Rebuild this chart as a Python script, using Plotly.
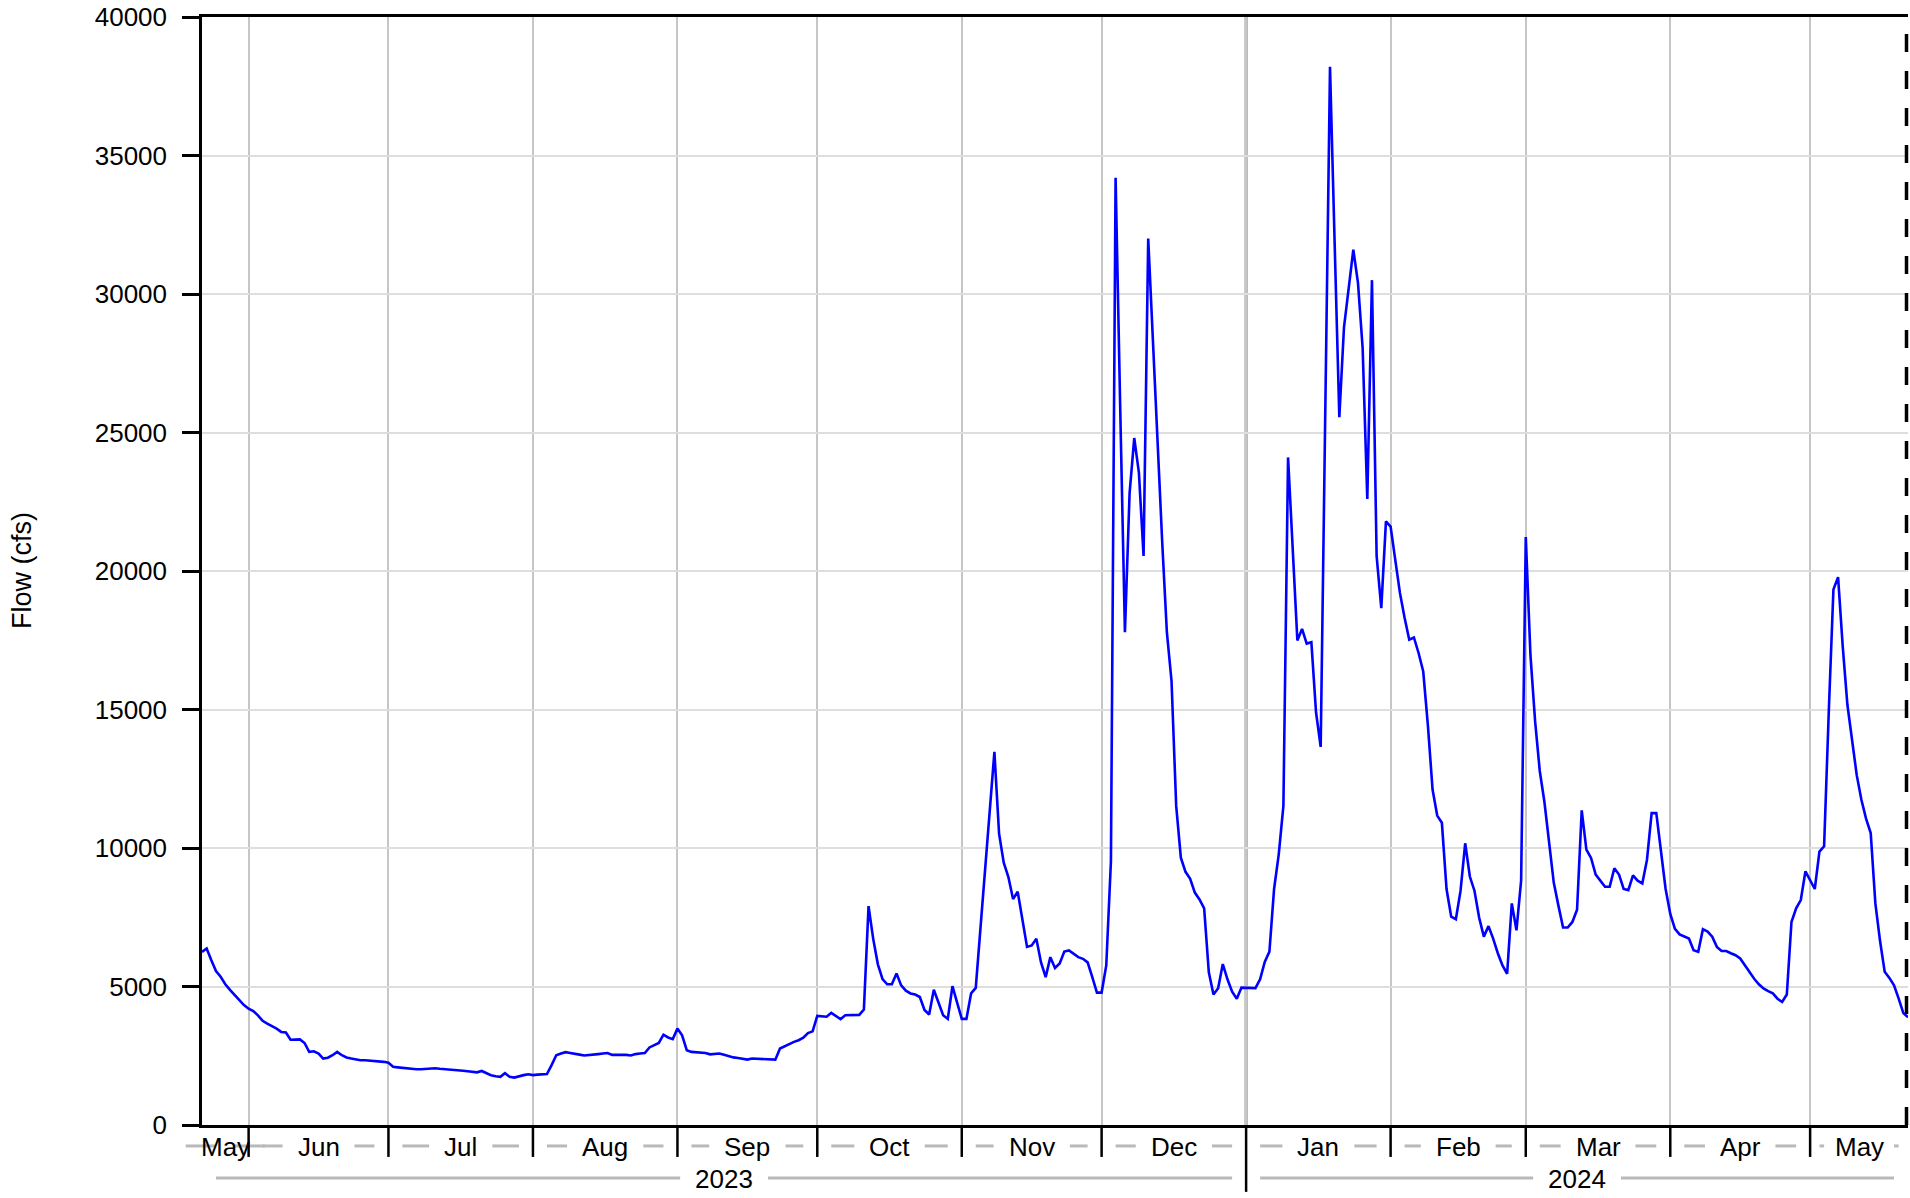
import pandas as pd
import plotly.graph_objects as go

# ---------------- data (daily mean flow, cfs) ----------------
START = "2023-05-22"

flow_2023_05 = [6250, 6370, 5950, 5560, 5350, 5080, 4880, 4700, 4530, 4330]
flow_2023_06 = [4200, 4110, 3960, 3760, 3660, 3580, 3480, 3360, 3340, 3080,
                3080, 3090, 2960, 2640, 2660, 2580, 2400, 2430, 2520, 2640,
                2520, 2440, 2400, 2360, 2340, 2340, 2330, 2320, 2310, 2280]
flow_2023_07 = [2250, 2100, 2080, 2060, 2040, 2020, 2010, 2010, 2020, 2040,
                2050, 2030, 2020, 2010, 2000, 1980, 1960, 1940, 1920, 1900,
                1950, 1880, 1800, 1760, 1740, 1870, 1740, 1710, 1760, 1800,
                1830]
flow_2023_08 = [1800, 1820, 1820, 1840, 2160, 2520, 2580, 2630, 2600, 2580,
                2540, 2510, 2520, 2540, 2560, 2580, 2600, 2530, 2530, 2550,
                2530, 2510, 2560, 2580, 2600, 2800, 2880, 2960, 3260, 3160,
                3100]
flow_2023_09 = [3480, 3240, 2700, 2640, 2620, 2600, 2600, 2550, 2560, 2580,
                2540, 2480, 2440, 2420, 2380, 2360, 2400, 2390, 2370, 2360,
                2360, 2360, 2760, 2850, 2920, 3000, 3060, 3150, 3320, 3380]
flow_2023_10 = [3940, 3920, 3910, 4050, 3940, 3820, 3960, 3970, 3970, 3975,
                4170, 7900, 6720, 5800, 5270, 5080, 5080, 5470, 5040, 4850,
                4750, 4710, 4620, 4150, 3990, 4880, 4420, 3960, 3830, 5010,
                4420]
flow_2023_11 = [3830, 3830, 4750, 4950, 7100, 9250, 11350, 13470, 10520, 9470,
                8950, 8160, 8420, 7370, 6430, 6480, 6720, 5870, 5340, 6060,
                5670, 5830, 6260, 6300, 6190, 6060, 6000, 5870, 5340, 4780]
flow_2023_12 = [4780, 5760, 9520, 34200, 25800, 17790, 22800, 24800, 23550, 20540,
                32000, 28300, 24550, 21040, 17790, 16030, 11520, 9650, 9140, 8890,
                8390, 8140, 7820, 5510, 4710, 4940, 5810, 5260, 4810, 4560,
                4960]
flow_2024_01 = [4960, 4940, 4940, 5260, 5890, 6260, 8520, 9770, 11520, 24100,
                21040, 17490, 17910, 17380, 17430, 14900, 13650, 25800, 38200, 31800,
                25550, 28800, 30300, 31600, 30400, 28050, 22600, 30500, 20540, 18660,
                21790]
flow_2024_02 = [21600, 20400, 19210, 18310, 17520, 17600, 17040, 16370, 14430, 12110,
                11170, 10910, 8520, 7520, 7430, 8450, 10170, 8970, 8450, 7480,
                6800, 7180, 6730, 6200, 5760, 5460, 8000, 7030, 8820]
flow_2024_03 = [21230, 16970, 14580, 12780, 11660, 10090, 8750, 7920, 7130, 7130,
                7330, 7770, 11360, 9940, 9640, 9040, 8820, 8600, 8600, 9270,
                9040, 8520, 8480, 9010, 8820, 8720, 9570, 11260, 11260, 9790,
                8520]
flow_2024_04 = [7620, 7080, 6880, 6800, 6730, 6310, 6250, 7070, 6980, 6800,
                6430, 6280, 6280, 6200, 6130, 6010, 5760, 5530, 5280, 5080,
                4930, 4830, 4750, 4560, 4440, 4710, 7330, 7820, 8120, 9160]
flow_2024_05 = [8820, 8520, 9870, 10060, 14900, 19330, 19780, 17270, 15170, 13830,
                12630, 11740, 11060, 10540, 8000, 6650, 5530, 5310, 5040, 4560,
                4040, 3890]

month_labels = ["May", "Jun", "Jul", "Aug", "Sep", "Oct", "Nov",
                "Dec", "Jan", "Feb", "Mar", "Apr", "May"]
year_labels = ["2023", "2024"]
y_ticks = [0, 5000, 10000, 15000, 20000, 25000, 30000, 35000, 40000]

flow = (flow_2023_05 + flow_2023_06 + flow_2023_07 + flow_2023_08 + flow_2023_09
        + flow_2023_10 + flow_2023_11 + flow_2023_12 + flow_2024_01 + flow_2024_02
        + flow_2024_03 + flow_2024_04 + flow_2024_05)
dates = pd.date_range(START, periods=len(flow), freq="D")
x_start, x_end = dates[0], dates[-1]

# ---------------- geometry ----------------
W, H = 1910, 1198
ML, MR, MT, MB = 202, 2, 15, 73
PW = W - ML - MR
PH = H - MT - MB
SPAN = (x_end - x_start).total_seconds()
FONT = "Liberation Sans, Arial, Helvetica, sans-serif"
FS = 26


def px_of(d):
    return ML + (pd.Timestamp(d) - x_start).total_seconds() / SPAN * PW


def xp(px):
    return (px - ML) / PW


def yp(py):
    return (H - MB - py) / PH


AW = {'J': 500, 'a': 556, 'n': 556, 'F': 611, 'e': 556, 'b': 556, 'M': 833,
      'r': 333, 'A': 667, 'p': 556, 'y': 500, 'u': 556, 'l': 222, 'g': 556,
      'S': 667, 'O': 778, 'c': 500, 't': 278, 'N': 722, 'o': 556, 'v': 500,
      'D': 722}
for ch in "0123456789":
    AW[ch] = 556


def text_w(s):
    return sum(AW.get(c, 556) for c in s) / 1000 * FS


month_starts = list(pd.date_range("2023-06-01", x_end, freq="MS"))
bounds_m = [x_start] + month_starts + [x_end]
jan1 = pd.Timestamp("2024-01-01")
bounds_y = [x_start, jan1, x_end]

shapes = []
annotations = []
GRAY = "#b9b9b9"


def section(a, b, label, ytext, yline):
    pa, pb = px_of(a), px_of(b)
    c = (pa + pb) / 2
    w = text_w(label)
    for s0, s1 in [(pa + 14, c - w / 2 - 15), (c + w / 2 + 15, pb - 14)]:
        shapes.append(dict(type="line", xref="paper", yref="paper",
                           x0=xp(s0), x1=xp(s1), y0=yp(yline), y1=yp(yline),
                           line=dict(color=GRAY, width=3), layer="above"))
    annotations.append(dict(text=label, xref="paper", yref="paper",
                            x=xp(c), y=yp(ytext), xanchor="center", yanchor="middle",
                            showarrow=False, font=dict(size=FS, color="black", family=FONT)))


for i, lab in enumerate(month_labels):
    section(bounds_m[i], bounds_m[i + 1], lab, 1147, 1146)
for i, lab in enumerate(year_labels):
    section(bounds_y[i], bounds_y[i + 1], lab, 1179, 1178)

# month separators
for d in month_starts:
    p = px_of(d)
    y_lo = 1192 if d == jan1 else 1157
    shapes.append(dict(type="line", xref="paper", yref="paper",
                       x0=xp(p), x1=xp(p), y0=yp(1128), y1=yp(y_lo),
                       line=dict(color="black", width=2.5), layer="above"))

# emphasised year-boundary gridline
shapes.append(dict(type="line", xref="x", yref="paper", x0=jan1, x1=jan1, y0=0, y1=1,
                   line=dict(color="#b0b0b0", width=3.5), layer="below"))

# dashed right edge
shapes.append(dict(type="line", xref="paper", yref="paper", x0=xp(PW + ML - 1.5),
                   x1=xp(PW + ML - 1.5), y0=0, y1=1,
                   line=dict(color="black", width=3.5, dash="18px,19px"), layer="above"))

# y title
annotations.append(dict(text="Flow (cfs)", xref="paper", yref="paper",
                        x=xp(22), y=0.5, xanchor="center", yanchor="middle",
                        textangle=-90, showarrow=False,
                        font=dict(size=27, color="black", family=FONT)))

fig = go.Figure()
fig.add_trace(go.Scatter(x=dates, y=flow, mode="lines",
                         line=dict(color="#0000ff", width=2.6),
                         showlegend=False, hoverinfo="x+y"))

fig.update_layout(
    width=W, height=H,
    margin=dict(l=ML, r=MR, t=MT, b=MB, pad=0),
    paper_bgcolor="white", plot_bgcolor="white",
    font=dict(family=FONT, size=FS, color="black"),
    shapes=shapes, annotations=annotations,
    showlegend=False,
)
fig.update_xaxes(range=[x_start, x_end], tick0="2023-06-01", dtick="M1",
                 showticklabels=False, ticks="", showgrid=True,
                 gridcolor="#c6c6c6", gridwidth=2, zeroline=False,
                 showline=True, linecolor="black", linewidth=3, mirror=True)
fig.update_yaxes(range=[0, 40000], tickvals=y_ticks,
                 ticktext=[str(v) for v in y_ticks],
                 ticks="outside", ticklen=17, tickwidth=2.5, tickcolor="black",
                 ticklabelstandoff=10,
                 tickfont=dict(size=FS, color="black", family=FONT),
                 showgrid=True, gridcolor="#dedede", gridwidth=2, zeroline=False,
                 showline=True, linecolor="black", linewidth=2.5)

fig.write_html("out.html", config={"displayModeBar": False},
               post_script="document.body.style.margin='0';document.body.style.overflow='hidden';")
